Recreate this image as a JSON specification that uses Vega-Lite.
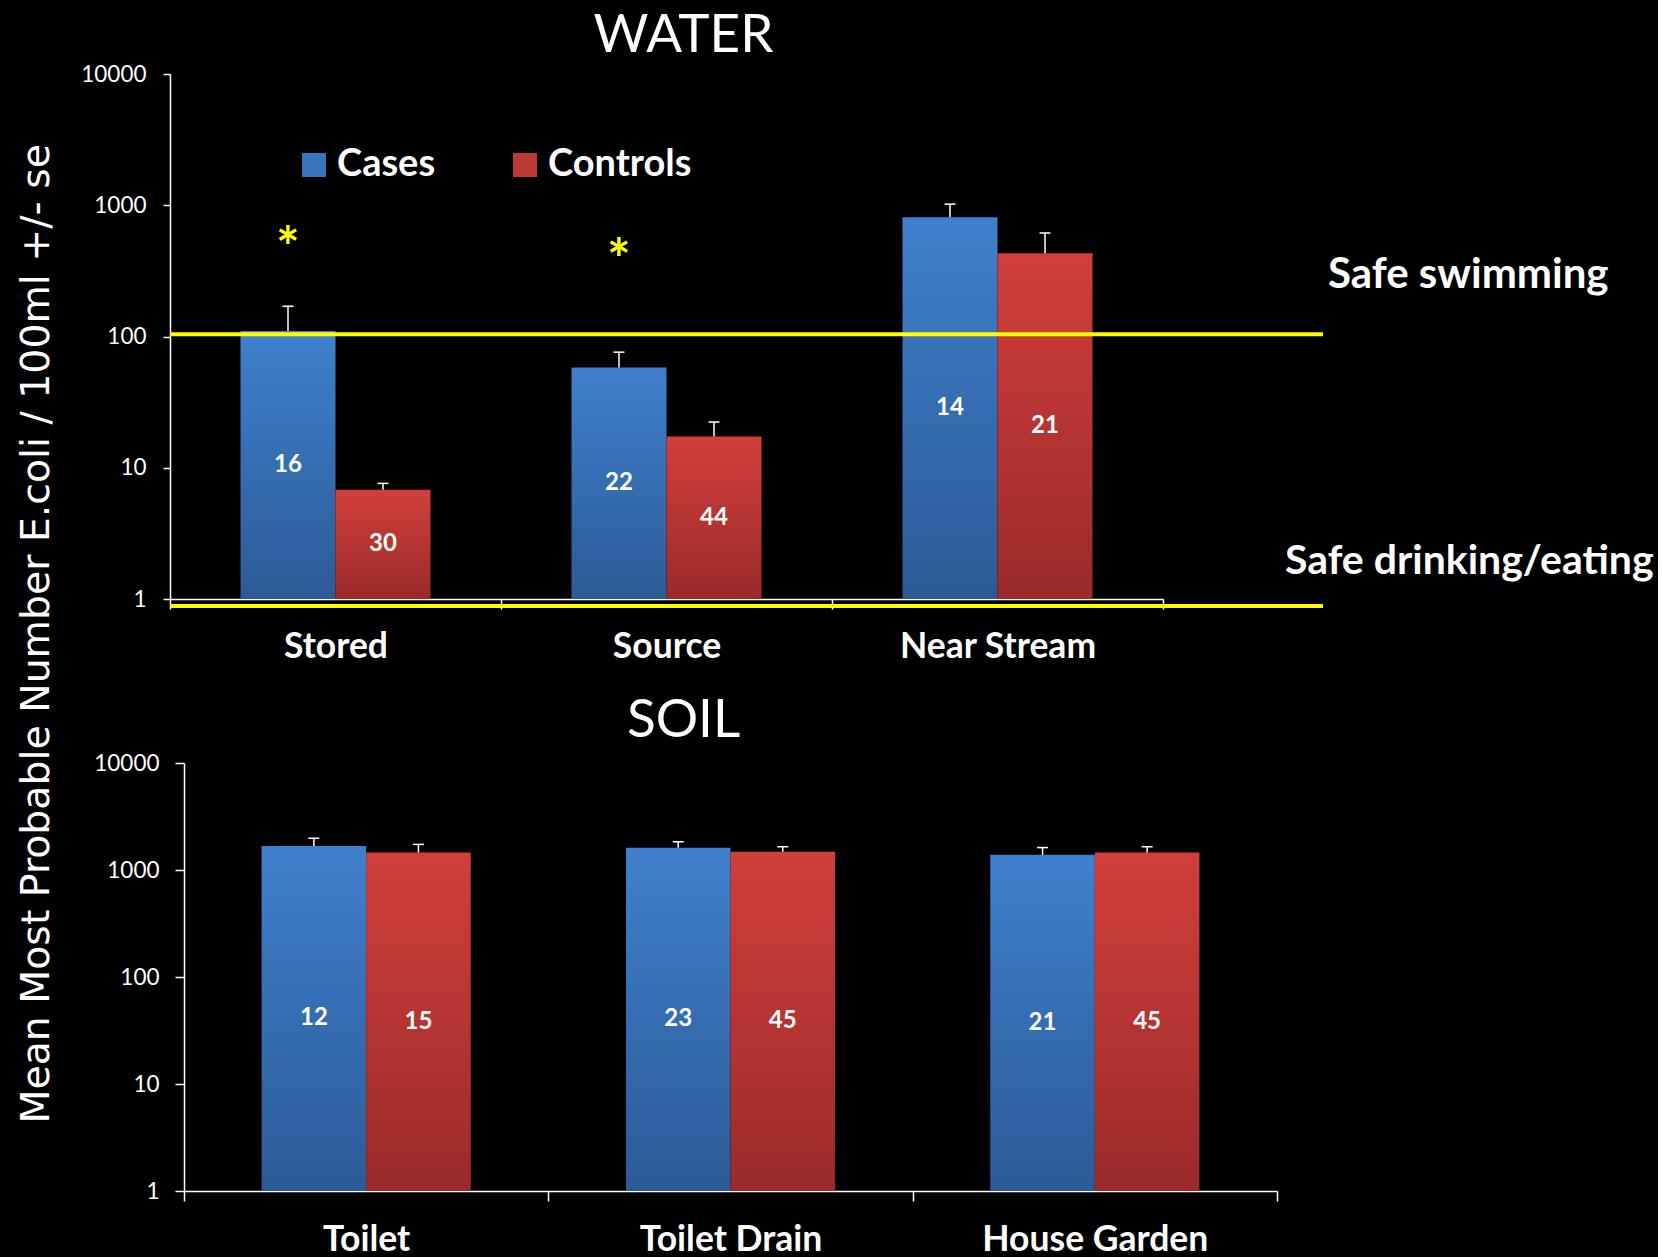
{
  "$schema": "https://vega.github.io/schema/vega-lite/v6.json",
  "background": "black",
  "padding": {"left": 17, "top": 10, "right": 4, "bottom": 0},
  "config": {
    "view": {"stroke": null},
    "font": "Lato",
    "axis": {"grid": false, "domainColor": "white", "tickColor": "white", "labelColor": "white", "domainWidth": 1.5, "tickWidth": 1.5}
  },
  "title": {"text": "Mean Most Probable Number E.coli / 100ml +/- se", "orient": "left", "anchor": "middle", "font": "DejaVu Sans", "fontSize": 39.4, "fontWeight": "normal", "color": "white", "offset": 23},
  "resolve": {"scale": {"color": "independent", "xOffset": "independent"}, "legend": {"color": "independent"}},
  "spacing": 30,
  "datasets": {
    "water": [
      {"site": "Stored", "group": "Cases", "value": 110, "upper": 170, "n": 16},
      {"site": "Stored", "group": "Controls", "value": 6.8, "upper": 7.6, "n": 30},
      {"site": "Source", "group": "Cases", "value": 58, "upper": 76, "n": 22},
      {"site": "Source", "group": "Controls", "value": 17.3, "upper": 22.3, "n": 44},
      {"site": "Near Stream", "group": "Cases", "value": 810, "upper": 1020, "n": 14},
      {"site": "Near Stream", "group": "Controls", "value": 430, "upper": 615, "n": 21}
    ],
    "soil": [
      {"site": "Toilet", "group": "Cases", "value": 1680, "upper": 1980, "n": 12},
      {"site": "Toilet", "group": "Controls", "value": 1455, "upper": 1735, "n": 15},
      {"site": "Toilet Drain", "group": "Cases", "value": 1610, "upper": 1840, "n": 23},
      {"site": "Toilet Drain", "group": "Controls", "value": 1480, "upper": 1650, "n": 45},
      {"site": "House Garden", "group": "Cases", "value": 1385, "upper": 1620, "n": 21},
      {"site": "House Garden", "group": "Controls", "value": 1455, "upper": 1650, "n": 45}
    ],
    "stars": [
      {"site": "Stored", "group": "Cases", "at": 590, "sig": "*"},
      {"site": "Source", "group": "Cases", "at": 480, "sig": "*"}
    ],
    "limits": [
      {"label": "Safe swimming", "level": 104},
      {"label": "Safe drinking/eating", "level": 0.885}
    ]
  },
  "vconcat": [
    {
      "width": 1153,
      "height": 525,
      "title": {"text": "WATER", "font": "Lato", "fontSize": 53, "fontWeight": "normal", "color": "white", "anchor": "middle", "dx": -63, "offset": 0},
      "layer": [
        {
          "data": {"name": "water"},
          "transform": [{"filter": "datum.group === 'Cases'"}],
          "mark": {"type": "bar", "fill": {"gradient": "linear", "x1": 0, "y1": 0, "x2": 0, "y2": 1, "stops": [{"offset": 0, "color": "#3f80cd"}, {"offset": 1, "color": "#2c5a96"}]}},
          "encoding": {
            "x": {"field": "site", "type": "nominal", "sort": null,
              "scale": {"domain": ["Stored", "Source", "Near Stream"], "range": [0, 993], "paddingInner": 0, "paddingOuter": 0},
              "axis": {"title": null, "tickBand": "extent", "tickSize": 10, "labelPadding": 20, "labelAngle": 0, "labelFont": "Lato", "labelFontWeight": "bold", "labelFontSize": 35.5, "labelLimit": 400}},
            "xOffset": {"field": "group", "type": "nominal", "scale": {"domain": ["Cases", "Controls"], "paddingInner": 0, "paddingOuter": 0.742}},
            "y": {"field": "value", "type": "quantitative",
              "scale": {"type": "log", "domain": [1, 10000]},
              "axis": {"title": null, "values": [1, 10, 100, 1000, 10000], "format": "d", "tickSize": 7, "labelPadding": 17, "labelFontSize": 22.5, "labelFont": "Lato"}},
            "y2": {"datum": 1}
          }
        },
        {
          "data": {"name": "water"},
          "transform": [{"filter": "datum.group === 'Controls'"}],
          "mark": {"type": "bar", "fill": {"gradient": "linear", "x1": 0, "y1": 0, "x2": 0, "y2": 1, "stops": [{"offset": 0, "color": "#d13f3b"}, {"offset": 1, "color": "#9a2a2a"}]}},
          "encoding": {
            "x": {"field": "site", "type": "nominal"},
            "xOffset": {"field": "group", "type": "nominal"},
            "y": {"field": "value", "type": "quantitative"},
            "y2": {"datum": 1}
          }
        },
        {
          "data": {"name": "water"},
          "mark": {"type": "square", "opacity": 0},
          "encoding": {
            "x": {"field": "site", "type": "nominal"},
            "xOffset": {"field": "group", "type": "nominal"},
            "y": {"field": "value", "type": "quantitative"},
            "color": {"field": "group", "type": "nominal",
              "scale": {"domain": ["Cases", "Controls"], "range": ["#3873bb", "#bd3735"]},
              "legend": {"title": null, "orient": "none", "legendX": 125, "legendY": 72, "direction": "horizontal",
                "symbolType": "square", "symbolSize": 576, "symbolOpacity": 1, "symbolStrokeWidth": 0,
                "labelFont": "Lato", "labelFontWeight": "bold", "labelFontSize": 38, "labelColor": "white",
                "labelOffset": 4, "columnPadding": 70, "labelLimit": 400}}
          }
        },
        {
          "data": {"name": "water"},
          "mark": {"type": "rule", "color": "white", "strokeWidth": 1.5},
          "encoding": {
            "x": {"field": "site", "type": "nominal"},
            "xOffset": {"field": "group", "type": "nominal"},
            "y": {"field": "value", "type": "quantitative"},
            "y2": {"field": "upper"}
          }
        },
        {
          "data": {"name": "water"},
          "mark": {"type": "tick", "color": "white", "size": 11, "thickness": 1.5, "opacity": 1},
          "encoding": {
            "x": {"field": "site", "type": "nominal"},
            "xOffset": {"field": "group", "type": "nominal"},
            "y": {"field": "upper", "type": "quantitative"}
          }
        },
        {
          "data": {"name": "water"},
          "transform": [{"calculate": "sqrt(datum.value)", "as": "mid"}],
          "mark": {"type": "text", "color": "white", "font": "Lato", "fontWeight": "bold", "fontSize": 24, "baseline": "middle"},
          "encoding": {
            "x": {"field": "site", "type": "nominal"},
            "xOffset": {"field": "group", "type": "nominal"},
            "y": {"field": "mid", "type": "quantitative"},
            "text": {"field": "n", "type": "nominal"}
          }
        },
        {
          "data": {"name": "stars"},
          "mark": {"type": "text", "color": "#ffff00", "font": "Lato", "fontWeight": "bold", "fontSize": 56, "baseline": "alphabetic", "dy": 32},
          "encoding": {
            "x": {"field": "site", "type": "nominal"},
            "xOffset": {"field": "group", "type": "nominal"},
            "y": {"field": "at", "type": "quantitative"},
            "text": {"field": "sig", "type": "nominal"}
          }
        },
        {
          "data": {"name": "limits"},
          "mark": {"type": "rule", "color": "#ffff00", "strokeWidth": 4, "clip": false},
          "encoding": {
            "y": {"field": "level", "type": "quantitative"}
          }
        },
        {
          "data": {"name": "limits"},
          "transform": [{"filter": "datum.label === 'Safe swimming'"}],
          "mark": {"type": "text", "color": "white", "font": "Lato", "fontWeight": "bold", "fontSize": 42, "align": "left", "baseline": "middle", "dx": 5, "dy": -59},
          "encoding": {
            "x": {"value": "width"},
            "y": {"field": "level", "type": "quantitative"},
            "text": {"field": "label", "type": "nominal"}
          }
        },
        {
          "data": {"name": "limits"},
          "transform": [{"filter": "datum.label === 'Safe drinking/eating'"}],
          "mark": {"type": "text", "color": "white", "font": "Lato", "fontWeight": "bold", "fontSize": 41, "align": "left", "baseline": "middle", "dx": -38, "dy": -44},
          "encoding": {
            "x": {"value": "width"},
            "y": {"field": "level", "type": "quantitative"},
            "text": {"field": "label", "type": "nominal"}
          }
        }
      ]
    },
    {
      "width": 1107,
      "height": 428,
      "title": {"text": "SOIL", "font": "Lato", "fontSize": 53, "fontWeight": "normal", "color": "white", "anchor": "middle", "dx": -40, "offset": 4},
      "layer": [
        {
          "data": {"name": "soil"},
          "transform": [{"filter": "datum.group === 'Cases'"}],
          "mark": {"type": "bar", "fill": {"gradient": "linear", "x1": 0, "y1": 0, "x2": 0, "y2": 1, "stops": [{"offset": 0, "color": "#3f80cd"}, {"offset": 1, "color": "#2c5a96"}]}},
          "encoding": {
            "x": {"field": "site", "type": "nominal", "sort": null,
              "scale": {"domain": ["Toilet", "Toilet Drain", "House Garden"], "range": [14, 1107], "paddingInner": 0, "paddingOuter": 0},
              "axis": {"title": null, "tickBand": "extent", "tickSize": 10, "labelPadding": 21, "labelAngle": 0, "labelFont": "Lato", "labelFontWeight": "bold", "labelFontSize": 35.5, "labelLimit": 400}},
            "xOffset": {"field": "group", "type": "nominal", "scale": {"domain": ["Cases", "Controls"], "paddingInner": 0, "paddingOuter": 0.742}},
            "y": {"field": "value", "type": "quantitative",
              "scale": {"type": "log", "domain": [1, 10000]},
              "axis": {"title": null, "offset": -14, "values": [1, 10, 100, 1000, 10000], "format": "d", "tickSize": 9, "labelPadding": 16, "labelFontSize": 22.5, "labelFont": "Lato"}},
            "y2": {"datum": 1}
          }
        },
        {
          "data": {"name": "soil"},
          "transform": [{"filter": "datum.group === 'Controls'"}],
          "mark": {"type": "bar", "fill": {"gradient": "linear", "x1": 0, "y1": 0, "x2": 0, "y2": 1, "stops": [{"offset": 0, "color": "#d13f3b"}, {"offset": 1, "color": "#9a2a2a"}]}},
          "encoding": {
            "x": {"field": "site", "type": "nominal"},
            "xOffset": {"field": "group", "type": "nominal"},
            "y": {"field": "value", "type": "quantitative"},
            "y2": {"datum": 1}
          }
        },
        {
          "data": {"name": "soil"},
          "mark": {"type": "rule", "color": "white", "strokeWidth": 1.5},
          "encoding": {
            "x": {"field": "site", "type": "nominal"},
            "xOffset": {"field": "group", "type": "nominal"},
            "y": {"field": "value", "type": "quantitative"},
            "y2": {"field": "upper"}
          }
        },
        {
          "data": {"name": "soil"},
          "mark": {"type": "tick", "color": "white", "size": 11, "thickness": 1.5, "opacity": 1},
          "encoding": {
            "x": {"field": "site", "type": "nominal"},
            "xOffset": {"field": "group", "type": "nominal"},
            "y": {"field": "upper", "type": "quantitative"}
          }
        },
        {
          "data": {"name": "soil"},
          "transform": [{"calculate": "sqrt(datum.value)", "as": "mid"}],
          "mark": {"type": "text", "color": "white", "font": "Lato", "fontWeight": "bold", "fontSize": 24, "baseline": "middle"},
          "encoding": {
            "x": {"field": "site", "type": "nominal"},
            "xOffset": {"field": "group", "type": "nominal"},
            "y": {"field": "mid", "type": "quantitative"},
            "text": {"field": "n", "type": "nominal"}
          }
        }
      ]
    }
  ]
}
